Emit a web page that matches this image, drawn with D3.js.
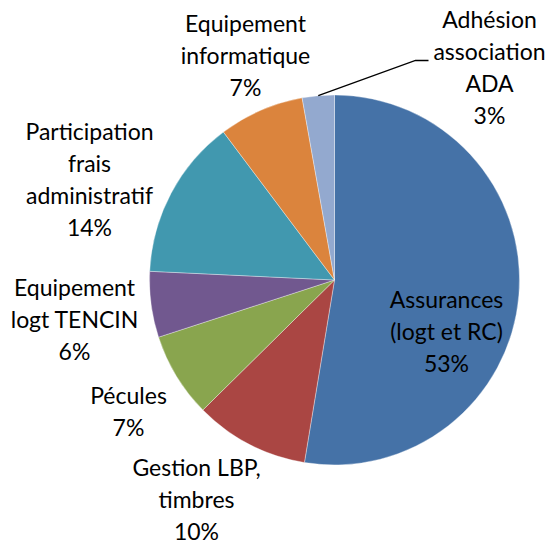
<!DOCTYPE html>
<html>
<head>
<meta charset="utf-8">
<script src="https://cdn.jsdelivr.net/npm/d3@7"></script>
<style>
  body { margin: 0; background: #fff; }
  text { font-family: Lato, "Open Sans", sans-serif; font-size: 23px; fill: #000; }
</style>
</head>
<body>
<svg width="554" height="544"></svg>
<script>
var categories = [
  ["Assurances", "(logt et RC)"],
  ["Gestion LBP,", "timbres"],
  ["Pécules"],
  ["Equipement", "logt TENCIN"],
  ["Participation", "frais", "administratif"],
  ["Equipement", "informatique"],
  ["Adhésion", "association", "ADA"]
];
var values = [52.6, 10.0, 7.4, 5.75, 14.0, 7.45, 2.8];
var colors = ["#4572A7", "#AA4643", "#89A54E", "#71588F", "#4198AF", "#DB843D", "#93A9CF"];

// label placement: text centre x / first baseline, relative to pie centre
var labelPos = [
  [112, 28], [-138, 196], [-206, 124], [-260, 16],
  [-245, -140], [-89, -248], [155, -252]
];

var svg = d3.select("svg"),
    cx = 334.5, cy = 280, r = 185,
    lineH = 32;

var g = svg.append("g").attr("transform", "translate(" + cx + "," + cy + ")");

var pie = d3.pie().sort(null).value(function(d) { return d; });
var arc = d3.arc().innerRadius(0).outerRadius(r);
var arcs = pie(values);
var total = d3.sum(values);

g.selectAll("path")
  .data(arcs)
  .enter().append("path")
    .attr("d", arc)
    .attr("fill", function(d, i) { return colors[i]; })
    .attr("stroke", "#ffffff")
    .attr("stroke-opacity", 0.5)
    .attr("stroke-width", 0.7);

// leader line for the small slice
var small = arcs[6];
var mid = (small.startAngle + small.endAngle) / 2;
var p0 = [Math.sin(mid) * r, -Math.cos(mid) * r];
g.append("polyline")
  .attr("points", [p0, [81, -219.5], [94, -219.5]].map(function(p) { return p.join(","); }).join(" "))
  .attr("fill", "none")
  .attr("stroke", "#000")
  .attr("stroke-width", 1.3);

var labels = g.selectAll("g.lbl")
  .data(arcs)
  .enter().append("g")
    .attr("class", "lbl")
    .attr("transform", function(d, i) { return "translate(" + labelPos[i][0] + "," + labelPos[i][1] + ")"; });

labels.each(function(d, i) {
  var lines = categories[i].concat([Math.round(d.value / total * 100) + "%"]);
  var t = d3.select(this).append("text").attr("text-anchor", "middle");
  lines.forEach(function(s, k) {
    t.append("tspan").attr("x", 0).attr("y", k * lineH).text(s);
  });
});
</script>
</body>
</html>
